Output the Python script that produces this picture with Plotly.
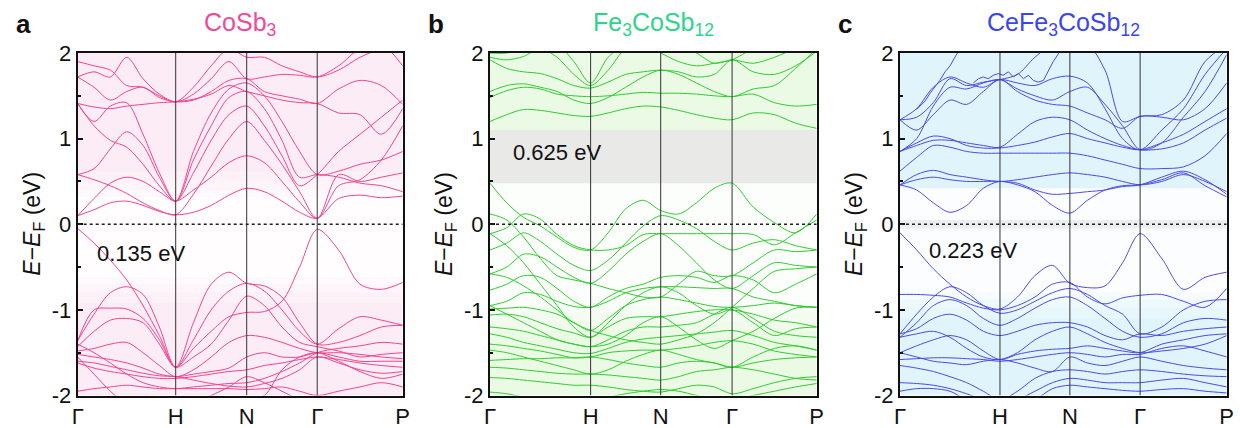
import numpy as np
import plotly.graph_objects as go

# ---------------- data ----------------
HS_LABELS = ["Γ", "H", "N", "Γ", "P"]
HS_A = [0.0, 0.3015, 0.52, 0.737, 1.0]
HS_B = [0.0, 0.308, 0.5225, 0.741, 1.0]
HS_C = [0.0, 0.306, 0.52, 0.735, 1.0]
SEG_POINTS = [6, 4, 4, 4]

TITLES = ["CoSb<sub>3</sub>", "Fe<sub>3</sub>CoSb<sub>12</sub>", "CeFe<sub>3</sub>CoSb<sub>12</sub>"]
GAP_LABELS = ["0.135 eV", "0.625 eV", "0.223 eV"]
PANEL_LETTERS = ["a", "b", "c"]

# CoSb3 bands (energies at the 19 k-points of the grid)
BANDS_A = [
    [0.10, 0.17, 0.25, 0.27, 0.22, 0.15, 0.11, 0.14, 0.22, 0.34, 0.42, 0.38, 0.27, 0.14, 0.07, 0.30, 0.34, 0.31, 0.33],
    [0.10, 0.30, 0.48, 0.55, 0.50, 0.38, 0.27, 0.40, 0.55, 0.72, 0.80, 0.72, 0.50, 0.26, 0.07, 0.45, 0.52, 0.75, 1.15],
    [0.58, 0.52, 0.45, 0.36, 0.25, 0.16, 0.11, 0.35, 0.68, 1.00, 1.20, 0.98, 0.70, 0.38, 0.07, 0.58, 0.50, 0.55, 0.60],
    [0.58, 0.65, 0.88, 1.08, 0.92, 0.55, 0.27, 0.60, 0.98, 1.28, 1.38, 1.15, 0.80, 0.45, 0.58, 0.85, 1.05, 1.25, 1.45],
    [1.41, 1.15, 0.98, 0.90, 0.70, 0.45, 0.27, 0.75, 1.15, 1.48, 1.55, 1.35, 0.98, 0.55, 0.58, 0.55, 0.48, 0.45, 0.38],
    [1.41, 1.20, 1.38, 1.42, 1.05, 0.60, 0.27, 0.85, 1.30, 1.58, 1.65, 1.50, 1.20, 0.85, 0.58, 0.62, 0.70, 0.75, 0.85],
    [1.41, 1.37, 1.35, 1.38, 1.40, 1.42, 1.43, 1.46, 1.52, 1.62, 1.55, 1.50, 1.45, 1.42, 1.41, 1.30, 1.28, 1.05, 1.35],
    [1.72, 1.60, 1.45, 1.55, 1.60, 1.48, 1.43, 1.45, 1.55, 1.68, 1.70, 1.55, 1.50, 1.46, 1.41, 1.58, 1.68, 1.62, 1.40],
    [1.72, 1.78, 1.72, 1.95, 1.70, 1.52, 1.43, 1.52, 1.70, 1.90, 1.70, 1.72, 1.75, 1.74, 1.72, 1.85, 2.05, 2.10, 1.85],
    [1.90, 1.85, 1.80, 1.62, 1.60, 1.50, 1.43, 1.60, 1.85, 2.05, 1.95, 1.95, 1.85, 1.78, 1.72, 1.80, 1.95, 2.05, 2.10],
    [-0.05, -0.22, -0.42, -0.65, -0.95, -1.30, -1.67, -1.15, -0.70, -0.56, -0.69, -0.72, -0.85, -1.15, -1.40, -1.38, -1.30, -1.20, -1.18],
    [-1.36, -1.05, -0.80, -0.73, -0.82, -1.20, -1.67, -1.35, -1.00, -0.78, -0.69, -0.78, -1.00, -1.25, -1.40, -1.22, -1.08, -1.12, -1.18],
    [-1.36, -1.00, -0.98, -0.99, -1.10, -1.35, -1.67, -1.45, -1.25, -1.08, -1.03, -1.02, -0.90, -0.50, -0.06, -0.30, -0.70, -0.76, -0.68],
    [-1.43, -1.25, -1.12, -1.10, -1.15, -1.40, -1.67, -1.55, -1.40, -1.12, -0.84, -0.95, -1.20, -1.38, -1.43, -1.48, -1.55, -1.52, -1.50],
    [-1.48, -1.45, -1.40, -1.38, -1.50, -1.65, -1.78, -1.70, -1.55, -1.38, -1.30, -1.32, -1.38, -1.45, -1.50, -1.50, -1.52, -1.55, -1.57],
    [-1.52, -1.55, -1.58, -1.62, -1.68, -1.75, -1.78, -1.75, -1.72, -1.68, -1.55, -1.50, -1.55, -1.55, -1.50, -1.55, -1.60, -1.60, -1.60],
    [-1.62, -1.68, -1.72, -1.75, -1.78, -1.80, -1.80, -1.78, -1.75, -1.72, -1.70, -1.65, -1.62, -1.58, -1.55, -1.58, -1.62, -1.65, -1.67],
    [-1.40, -1.50, -1.62, -1.75, -1.85, -1.90, -1.92, -1.90, -1.88, -1.86, -1.85, -1.80, -1.72, -1.62, -1.50, -1.45, -1.42, -1.38, -1.40],
    [-1.95, -1.92, -1.90, -1.88, -1.90, -1.92, -1.92, -1.92, -1.92, -1.92, -1.93, -1.92, -1.90, -1.95, -2.00, -1.95, -1.90, -1.85, -1.90],
    [-1.55, -1.75, -1.95, -2.10, -2.10, -2.10, -2.10, -2.10, -2.00, -1.90, -1.78, -1.85, -1.95, -2.05, -2.10, -2.10, -2.10, -2.10, -2.10],
    [-2.10, -2.10, -2.10, -2.10, -2.10, -2.10, -2.10, -2.10, -2.10, -2.10, -2.05, -2.00, -1.70, -1.55, -1.50, -1.60, -1.72, -1.80, -1.75],
    [-1.60, -1.62, -1.66, -1.70, -1.74, -1.77, -1.78, -1.82, -1.86, -1.89, -1.90, -1.86, -1.80, -1.70, -1.55, -1.62, -1.70, -1.74, -1.72],
]

# Fe3CoSb12 bands
BANDS_B = [
    [1.20, 1.28, 1.34, 1.33, 1.30, 1.27, 1.26, 1.30, 1.35, 1.38, 1.37, 1.33, 1.28, 1.24, 1.22, 1.30, 1.28, 1.18, 1.12],
    [1.48, 1.56, 1.60, 1.58, 1.52, 1.50, 1.49, 1.50, 1.52, 1.54, 1.53, 1.53, 1.52, 1.50, 1.49, 1.52, 1.42, 1.38, 1.40],
    [1.55, 1.62, 1.64, 1.60, 1.55, 1.45, 1.41, 1.48, 1.60, 1.72, 1.80, 1.75, 1.65, 1.55, 1.49, 1.58, 1.62, 1.82, 2.05],
    [1.92, 1.82, 1.78, 1.76, 1.70, 1.62, 1.59, 1.66, 1.75, 1.78, 1.80, 1.78, 1.72, 1.75, 1.92, 1.78, 1.75, 1.85, 2.02],
    [1.95, 1.92, 1.96, 2.05, 1.95, 1.75, 1.62, 1.80, 2.05, 2.10, 2.10, 2.10, 2.00, 1.88, 1.92, 1.88, 1.95, 2.05, 2.10],
    [2.00, 2.00, 2.05, 2.10, 2.10, 1.90, 1.65, 1.95, 2.10, 2.10, 2.00, 1.90, 1.85, 1.88, 1.92, 2.05, 2.10, 2.10, 2.10],
    [0.48, 0.25, 0.08, -0.02, -0.15, -0.27, -0.30, -0.10, 0.18, 0.28, 0.16, 0.12, 0.25, 0.42, 0.48, 0.20, 0.02, -0.10, 0.12],
    [-0.11, -0.04, 0.12, 0.06, -0.12, -0.25, -0.30, -0.30, -0.25, -0.12, -0.11, -0.11, -0.11, -0.11, -0.11, -0.12, -0.24, -0.10, 0.05],
    [-0.30, -0.22, -0.10, -0.20, -0.35, -0.48, -0.54, -0.42, -0.22, -0.02, 0.10, 0.05, -0.05, -0.20, -0.30, -0.22, -0.18, -0.25, -0.30],
    [-0.58, -0.50, -0.35, -0.38, -0.50, -0.62, -0.69, -0.55, -0.35, -0.20, -0.11, -0.25, -0.45, -0.65, -0.75, -0.60, -0.45, -0.48, -0.50],
    [-0.77, -0.70, -0.60, -0.62, -0.75, -0.90, -0.97, -0.85, -0.75, -0.70, -0.62, -0.60, -0.62, -0.68, -0.60, -0.65, -0.80, -0.70, -0.58],
    [-0.95, -0.90, -0.80, -0.82, -0.90, -0.96, -0.97, -0.90, -0.80, -0.75, -0.73, -0.73, -0.74, -0.75, -0.75, -0.85, -0.90, -0.95, -0.97],
    [-0.99, -0.98, -0.97, -1.00, -1.05, -1.15, -1.24, -1.10, -0.95, -0.88, -0.85, -0.88, -0.92, -0.96, -0.97, -0.95, -0.92, -0.95, -0.97],
    [-1.06, -1.05, -1.08, -1.15, -1.22, -1.27, -1.32, -1.20, -1.10, -1.08, -1.08, -1.05, -1.02, -1.00, -1.00, -1.05, -1.12, -1.15, -1.20],
    [-1.20, -1.22, -1.25, -1.30, -1.35, -1.40, -1.43, -1.35, -1.25, -1.20, -1.20, -1.18, -1.15, -1.05, -0.97, -1.10, -1.25, -1.30, -1.32],
    [-1.28, -1.32, -1.38, -1.42, -1.46, -1.50, -1.51, -1.45, -1.38, -1.34, -1.32, -1.30, -1.28, -1.26, -1.24, -1.30, -1.38, -1.42, -1.47],
    [-1.40, -1.42, -1.45, -1.48, -1.52, -1.56, -1.55, -1.50, -1.48, -1.47, -1.47, -1.45, -1.42, -1.38, -1.36, -1.40, -1.48, -1.52, -1.55],
    [-1.59, -1.58, -1.57, -1.57, -1.56, -1.56, -1.55, -1.58, -1.62, -1.65, -1.67, -1.62, -1.60, -1.62, -1.67, -1.62, -1.58, -1.56, -1.55],
    [-1.67, -1.68, -1.70, -1.72, -1.74, -1.75, -1.75, -1.76, -1.78, -1.80, -1.82, -1.78, -1.72, -1.70, -1.67, -1.70, -1.75, -1.80, -1.82],
    [-1.79, -1.80, -1.82, -1.84, -1.86, -1.88, -1.88, -1.90, -1.93, -1.95, -1.96, -1.92, -1.88, -1.90, -1.98, -1.92, -1.85, -1.80, -1.78],
    [-1.96, -1.98, -2.02, -2.05, -2.05, -2.05, -2.05, -2.02, -1.98, -1.95, -1.93, -1.95, -2.00, -2.05, -2.05, -2.00, -1.95, -1.90, -1.86],
    [-0.58, -0.62, -0.72, -0.85, -1.00, -1.15, -1.24, -1.30, -1.35, -1.38, -1.40, -1.35, -1.28, -1.15, -0.97, -0.75, -0.55, -0.52, -0.50],
    [-0.11, -0.25, -0.45, -0.70, -0.95, -1.20, -1.32, -1.15, -0.95, -0.80, -0.73, -0.80, -0.95, -1.05, -1.00, -1.15, -1.30, -1.22, -1.20],
    [-0.95, -1.05, -1.15, -1.25, -1.35, -1.40, -1.43, -1.40, -1.30, -1.15, -1.08, -1.20, -1.35, -1.45, -1.36, -1.25, -1.10, -0.98, -0.97],
    [0.12, 0.05, -0.15, -0.40, -0.60, -0.65, -0.69, -0.75, -0.80, -0.85, -0.85, -0.70, -0.55, -0.60, -0.60, -0.45, -0.30, -0.32, -0.30],
    [-1.47, -1.50, -1.55, -1.60, -1.65, -1.70, -1.75, -1.70, -1.60, -1.52, -1.47, -1.52, -1.58, -1.62, -1.67, -1.55, -1.45, -1.42, -1.47],
]

# CeFe3CoSb12 bands
BANDS_C = [
    [0.46, 0.40, 0.25, 0.14, 0.22, 0.42, 0.50, 0.46, 0.38, 0.22, 0.13, 0.28, 0.40, 0.45, 0.46, 0.52, 0.60, 0.45, 0.32],
    [0.46, 0.58, 0.63, 0.58, 0.55, 0.52, 0.50, 0.52, 0.55, 0.58, 0.60, 0.58, 0.55, 0.50, 0.46, 0.50, 0.58, 0.50, 0.38],
    [0.46, 0.52, 0.55, 0.52, 0.50, 0.50, 0.50, 0.48, 0.40, 0.35, 0.36, 0.38, 0.40, 0.44, 0.46, 0.55, 0.62, 0.52, 0.35],
    [0.62, 0.78, 0.92, 0.90, 0.85, 0.83, 0.83, 0.83, 0.83, 0.83, 0.83, 0.80, 0.75, 0.70, 0.65, 0.65, 0.67, 0.80, 1.06],
    [0.85, 0.95, 1.03, 1.00, 0.92, 0.89, 0.89, 0.92, 0.96, 1.02, 1.06, 1.00, 0.95, 0.90, 0.87, 0.95, 1.05, 1.20, 1.35],
    [0.85, 0.92, 0.98, 0.98, 0.95, 0.92, 0.90, 1.05, 1.20, 1.25, 1.22, 1.10, 1.00, 0.92, 0.87, 0.88, 0.95, 1.10, 1.24],
    [1.22, 1.10, 1.28, 1.45, 1.40, 1.55, 1.69, 1.55, 1.45, 1.40, 1.38, 1.30, 1.22, 1.12, 1.26, 1.25, 1.22, 1.35, 1.65],
    [0.85, 1.00, 1.38, 1.60, 1.58, 1.65, 1.69, 1.58, 1.50, 1.45, 1.55, 1.60, 1.40, 1.15, 0.87, 0.95, 1.25, 1.55, 1.98],
    [1.22, 1.35, 1.60, 1.72, 1.65, 1.60, 1.69, 1.65, 1.62, 1.70, 1.73, 1.65, 1.35, 1.00, 0.87, 1.10, 1.35, 1.75, 2.05],
    [1.22, 1.25, 1.42, 1.70, 1.62, 1.66, 1.69, 1.75, 1.95, 2.10, 2.10, 2.10, 1.80, 1.20, 1.26, 1.28, 1.45, 1.90, 2.10],
    [-0.10, -0.30, -0.52, -0.70, -0.85, -0.95, -0.99, -0.85, -0.60, -0.48, -0.69, -0.74, -0.72, -0.45, -0.11, -0.40, -0.76, -0.62, -0.56],
    [-0.82, -0.82, -0.83, -0.85, -0.92, -0.98, -1.00, -0.95, -0.85, -0.70, -0.68, -0.85, -0.93, -0.86, -0.83, -0.82, -0.90, -0.97, -0.75],
    [-1.28, -1.05, -0.85, -0.73, -0.80, -0.95, -1.04, -1.00, -0.90, -0.80, -0.75, -0.82, -0.95, -1.05, -1.28, -1.20, -1.00, -0.90, -0.88],
    [-1.32, -1.15, -0.95, -0.88, -0.95, -1.10, -1.18, -1.10, -0.98, -0.88, -0.85, -0.95, -1.10, -1.25, -1.32, -1.28, -1.15, -1.10, -1.12],
    [-1.28, -1.22, -1.10, -1.05, -1.12, -1.25, -1.30, -1.25, -1.18, -1.15, -1.15, -1.20, -1.30, -1.35, -1.28, -1.30, -1.25, -1.22, -1.20],
    [-1.50, -1.42, -1.35, -1.30, -1.35, -1.48, -1.58, -1.52, -1.48, -1.46, -1.45, -1.42, -1.45, -1.48, -1.50, -1.40, -1.35, -1.30, -1.28],
    [-1.58, -1.57, -1.56, -1.56, -1.57, -1.58, -1.60, -1.58, -1.55, -1.52, -1.50, -1.52, -1.55, -1.52, -1.52, -1.45, -1.42, -1.48, -1.55],
    [-1.50, -1.55, -1.60, -1.62, -1.64, -1.60, -1.58, -1.62, -1.68, -1.72, -1.55, -1.62, -1.65, -1.60, -1.55, -1.60, -1.65, -1.68, -1.70],
    [-1.65, -1.68, -1.72, -1.78, -1.85, -1.95, -2.05, -1.95, -1.80, -1.72, -1.70, -1.72, -1.75, -1.72, -1.70, -1.72, -1.75, -1.77, -1.78],
    [-1.85, -1.86, -1.88, -1.92, -1.98, -2.05, -2.10, -2.05, -1.95, -1.85, -1.80, -1.82, -1.85, -1.85, -1.85, -1.82, -1.80, -1.85, -1.90],
    [-1.95, -1.92, -1.92, -1.95, -2.05, -2.10, -2.10, -2.10, -2.05, -1.92, -1.88, -1.90, -1.92, -1.94, -1.95, -1.93, -1.92, -1.95, -1.97],
    [-1.32, -1.28, -1.25, -1.32, -1.45, -1.55, -1.58, -1.50, -1.35, -1.25, -1.20, -1.28, -1.38, -1.45, -1.50, -1.48, -1.45, -1.40, -1.30],
]

# jagged (Ce-f like) bands of panel c, read directly in k and E
JAG1_K = [0.051, 0.066, 0.077, 0.092, 0.107, 0.122, 0.138, 0.153, 0.168, 0.179]
JAG1_E = [1.34, 1.40, 1.44, 1.53, 1.60, 1.68, 1.78, 1.85, 1.95, 2.02]
JAG2_K = [0.2245, 0.240, 0.255, 0.270, 0.286, 0.301, 0.316, 0.332, 0.347, 0.362, 0.378, 0.393, 0.408, 0.423, 0.439, 0.454, 0.469, 0.490]
JAG2_E = [1.65, 1.70, 1.72, 1.70, 1.74, 1.76, 1.74, 1.78, 1.72, 1.76, 1.70, 1.74, 1.68, 1.66, 1.68, 1.80, 1.90, 2.02]

LINE_COLORS = ["#f0448f", "#2fcc2f", "#4b4be6"]
TITLE_COLORS = ["#f2489a", "#2ed48c", "#3b45ee"]

# ---------------- figure ----------------
W, H = 1240, 428
X_DOMAINS = [[77.7 / W, 402.7 / W], [490 / W, 816.7 / W], [900 / W, 1226.7 / W]]
Y_DOMAIN = [1 - 395.5 / H, 1 - 53 / H]
HS_ALL = [HS_A, HS_B, HS_C]
BANDS_ALL = [BANDS_A, BANDS_B, BANDS_C]


def kgrid(hs):
    pts = []
    for i, n in enumerate(SEG_POINTS):
        seg = np.linspace(hs[i], hs[i + 1], n + 1)
        pts.extend(seg if i == 0 else seg[1:])
    return np.array(pts)


fig = go.Figure()
shapes = []
annotations = []
font = "Liberation Sans, Arial, sans-serif"

# backgrounds: (fill, white-band, gray-band)
BG = [
    ("#fcecf6", (-0.62, 0.32), None),
    ("#ebfae4", (-0.95, 0.48), (0.48, 1.10)),
    ("#dff4fb", (-0.80, 0.42), (-0.05, 0.05)),
]

for p in range(3):
    sfx = "" if p == 0 else str(p + 1)
    xr, yr = "x" + sfx, "y" + sfx
    k = kgrid(HS_ALL[p])
    for band in BANDS_ALL[p]:
        fig.add_trace(go.Scatter(x=k, y=band, mode="lines", xaxis=xr, yaxis=yr,
                                 line=dict(color=LINE_COLORS[p], width=1, shape="spline", smoothing=0.9),
                                 showlegend=False, hoverinfo="skip"))
    if p == 2:
        for kk, ee in [(JAG1_K, JAG1_E), (JAG2_K, JAG2_E)]:
            fig.add_trace(go.Scatter(x=kk, y=ee, mode="lines", xaxis=xr, yaxis=yr,
                                     line=dict(color=LINE_COLORS[p], width=1),
                                     showlegend=False, hoverinfo="skip"))
    fill, wband, gband = BG[p]
    shapes.append(dict(type="rect", xref=xr, yref=yr, x0=0, x1=1, y0=-2, y1=2,
                       fillcolor=fill, line=dict(width=0), layer="below"))
    # soft white band (layered for a gradient look)
    for pad, op in [(0.30, 0.25), (0.18, 0.3), (0.08, 0.4), (0.0, 0.6)]:
        shapes.append(dict(type="rect", xref=xr, yref=yr, x0=0, x1=1,
                           y0=wband[0] - pad, y1=wband[1] + (pad if p == 0 else 0),
                           fillcolor="rgba(255,255,255,%.2f)" % op, line=dict(width=0), layer="below"))
    if gband:
        shapes.append(dict(type="rect", xref=xr, yref=yr, x0=0, x1=1, y0=gband[0], y1=gband[1],
                           fillcolor="#e9eae8" if p == 1 else "rgba(0,0,0,0.06)",
                           line=dict(width=0), layer="below"))
    for xv in HS_ALL[p][1:-1]:
        shapes.append(dict(type="line", xref=xr, yref=yr, x0=xv, x1=xv, y0=-2, y1=2,
                           line=dict(color="#333333", width=1)))
    shapes.append(dict(type="line", xref=xr, yref=yr, x0=0, x1=1, y0=0, y1=0,
                       line=dict(color="#222222", width=1.5, dash="dot")))

    dom = X_DOMAINS[p]
    fig.layout["xaxis" + sfx] = dict(domain=dom, range=[0, 1], anchor=yr, automargin=False,
                                     tickvals=HS_ALL[p], ticktext=HS_LABELS, ticks="",
                                     tickfont=dict(size=22, color="#111", family=font),
                                     showline=True, linewidth=2, linecolor="#111", mirror=True,
                                     showgrid=False, zeroline=False, fixedrange=True)
    fig.layout["yaxis" + sfx] = dict(domain=Y_DOMAIN, range=[-2, 2], anchor=xr, automargin=False,
                                     tickvals=[-2, -1, 0, 1, 2], ticktext=["-2", "-1", "0", "1", "2"],
                                     ticks="inside", ticklen=5, tickwidth=1.5, tickcolor="#111",
                                     minor=dict(tickvals=[-1.5, -0.5, 0.5, 1.5], ticks="inside", ticklen=3,
                                                tickcolor="#111"),
                                     tickfont=dict(size=22, color="#111", family=font),
                                     showline=True, linewidth=2, linecolor="#111", mirror=True,
                                     showgrid=False, zeroline=False, fixedrange=True)
    # y-axis title
    annotations.append(dict(text="<i>E</i>−<i>E</i><sub>F</sub> (eV)", xref="paper", yref="paper",
                            x=(dom[0] * W - 45) / W, y=(H - 224) / H, textangle=-90, showarrow=False,
                            font=dict(size=23, color="#111", family=font), xanchor="center", yanchor="middle"))
    # panel title
    annotations.append(dict(text=TITLES[p], xref="paper", yref="paper",
                            x=(dom[0] + dom[1]) / 2, y=(H - 24) / H, showarrow=False,
                            font=dict(size=25, color=TITLE_COLORS[p], family=font),
                            xanchor="center", yanchor="middle"))
    # panel letter
    annotations.append(dict(text="<b>" + PANEL_LETTERS[p] + "</b>", xref="paper", yref="paper",
                            x=(dom[0] * W - 64) / W, y=(H - 24) / H, showarrow=False,
                            font=dict(size=26, color="#111", family=font),
                            xanchor="left", yanchor="middle"))

# gap labels
GAP_POS = [(95, 253), (511, 152), (927, 250)]
for p in range(3):
    gx, gy = GAP_POS[p]
    annotations.append(dict(text=GAP_LABELS[p], xref="paper", yref="paper",
                            x=gx / W, y=(H - gy) / H, showarrow=False,
                            font=dict(size=22, color="#111", family=font),
                            xanchor="left", yanchor="middle"))

fig.update_layout(width=W, height=H, margin=dict(l=0, r=0, t=0, b=0),
                  paper_bgcolor="white", plot_bgcolor="white",
                  shapes=shapes, annotations=annotations, showlegend=False)

fig.write_html("out.html", config={"responsive": False, "displayModeBar": False},
               post_script="document.body.style.margin='0';document.body.style.padding='0';"
                           "document.body.style.overflow='hidden';")
